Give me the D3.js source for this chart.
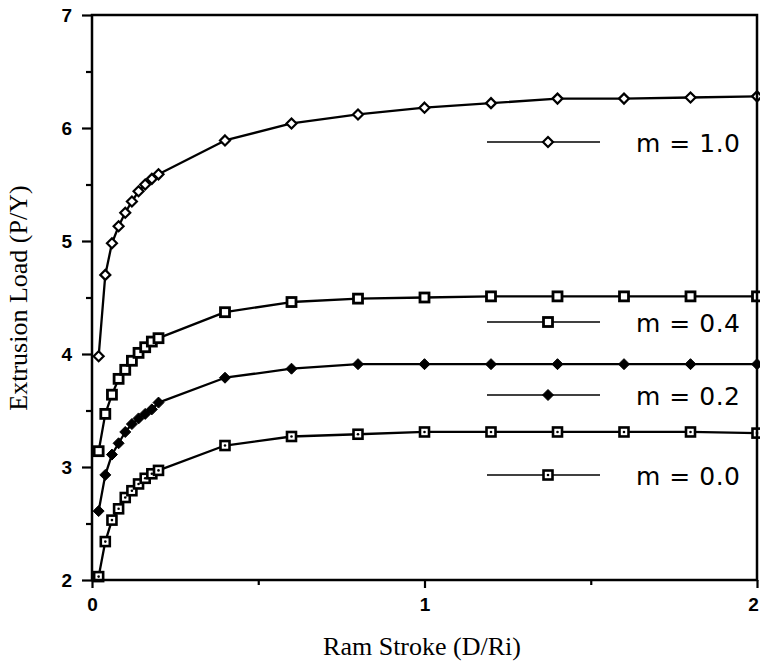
<!DOCTYPE html>
<html><head><meta charset="utf-8">
<script src="https://cdn.jsdelivr.net/npm/d3@7"></script>
<style>body{margin:0;background:#fff}svg{display:block}</style>
</head><body><svg id="c" width="760" height="666"></svg>
<script>
const xs = [0.02,0.04,0.06,0.08,0.10,0.12,0.14,0.16,0.18,0.20,0.4,0.6,0.8,1.0,1.2,1.4,1.6,1.8,2.0];
const m10 = [3.98,4.70,4.98,5.13,5.25,5.35,5.44,5.50,5.55,5.59,5.89,6.04,6.12,6.18,6.22,6.26,6.26,6.27,6.28];
const m04 = [3.14,3.47,3.64,3.78,3.86,3.94,4.01,4.06,4.11,4.14,4.37,4.46,4.49,4.50,4.51,4.51,4.51,4.51,4.51];
const m02 = [2.61,2.93,3.11,3.21,3.31,3.38,3.43,3.47,3.51,3.57,3.79,3.87,3.91,3.91,3.91,3.91,3.91,3.91,3.91];
const m00 = [2.03,2.34,2.53,2.63,2.73,2.79,2.85,2.90,2.94,2.97,3.19,3.27,3.29,3.31,3.31,3.31,3.31,3.31,3.30];
const seriesNames = ["m = 1.0","m = 0.4","m = 0.2","m = 0.0"];
const xTicks = [0,1,2];
const yTicks = [2,3,4,5,6,7];

const svg = d3.select("#c");
const L=92, R=757, T=15, B=580;
const x = d3.scaleLinear().domain([0,2]).range([L,R]);
const y = d3.scaleLinear().domain([2,7]).range([B,T]);

const series = [
  {name:seriesNames[0], vals:m10, mk:"odiamond", ly:142},
  {name:seriesNames[1], vals:m04, mk:"osquare", ly:322},
  {name:seriesNames[2], vals:m02, mk:"fdiamond", ly:395},
  {name:seriesNames[3], vals:m00, mk:"dsquare", ly:475}
];

const line = d3.line().x(d=>x(d[0])).y(d=>y(d[1]));

function marker(g, kind, cx, cy){
  if(kind==="odiamond"){
    g.append("path").attr("d",`M${cx},${cy-5}L${cx+5},${cy}L${cx},${cy+5}L${cx-5},${cy}Z`)
      .attr("fill","#fff").attr("stroke","#000").attr("stroke-width",2.2);
  } else if(kind==="fdiamond"){
    g.append("path").attr("d",`M${cx},${cy-5.5}L${cx+5.5},${cy}L${cx},${cy+5.5}L${cx-5.5},${cy}Z`)
      .attr("fill","#000").attr("stroke","#000").attr("stroke-width",1);
  } else if(kind==="osquare"){
    g.append("rect").attr("x",cx-4.5).attr("y",cy-4.5).attr("width",9).attr("height",9)
      .attr("fill","#fff").attr("stroke","#000").attr("stroke-width",2.8);
  } else {
    g.append("rect").attr("x",cx-4.5).attr("y",cy-4.5).attr("width",9).attr("height",9)
      .attr("fill","#fff").attr("stroke","#000").attr("stroke-width",2.6);
    g.append("circle").attr("cx",cx).attr("cy",cy).attr("r",1.3).attr("fill","#000");
  }
}

// series
series.forEach(s=>{
  const pts = xs.map((v,i)=>[v,s.vals[i]]);
  svg.append("path").datum(pts).attr("d",line).attr("fill","none")
    .attr("stroke","#000").attr("stroke-width",2.3).attr("stroke-linejoin","round");
  const g = svg.append("g");
  pts.forEach(p=>marker(g,s.mk,x(p[0]),y(p[1])));
});

// legend
series.forEach(s=>{
  svg.append("line").attr("x1",487).attr("x2",600).attr("y1",s.ly).attr("y2",s.ly)
    .attr("stroke","#000").attr("stroke-width",1.6);
  marker(svg.append("g"), s.mk, 548, s.ly);
  svg.append("text").attr("x",636).attr("y",s.ly+10).text(s.name)
    .attr("font-family","DejaVu Sans, sans-serif").attr("font-size",25)
    .attr("textLength",104).attr("lengthAdjust","spacing");
});

// frame
svg.append("rect").attr("x",L).attr("y",T).attr("width",R-L).attr("height",B-T)
  .attr("fill","none").attr("stroke","#000").attr("stroke-width",2.5);

// axes
const yAxis = d3.axisLeft(y).tickValues(yTicks).tickSize(10).tickPadding(10).tickFormat(d3.format("d"));
const gy = svg.append("g").attr("transform",`translate(${L},0)`).call(yAxis);
const xAxis = d3.axisBottom(x).tickValues(xTicks).tickSize(8).tickPadding(10).tickFormat(d3.format("d"));
const gx = svg.append("g").attr("transform",`translate(0,${B})`).call(xAxis);
[gx,gy].forEach(g=>{
  g.select(".domain").remove();
  g.selectAll(".tick line").attr("stroke","#000").attr("stroke-width",2.2);
  g.selectAll(".tick text").attr("font-family","Liberation Sans, Arial, sans-serif")
    .attr("font-size",19).attr("font-weight","bold").attr("fill","#000");
});
gx.selectAll(".tick text").filter(d=>d===2).attr("dx",-4);
// minor ticks
const yMinor = d3.axisLeft(y).tickValues([2.5,3.5,4.5,5.5,6.5]).tickSize(6).tickFormat("");
const gym = svg.append("g").attr("transform",`translate(${L},0)`).call(yMinor);
const xMinor = d3.axisBottom(x).tickValues([0.5,1.5]).tickSize(5).tickFormat("");
const gxm = svg.append("g").attr("transform",`translate(0,${B})`).call(xMinor);
[gym,gxm].forEach(g=>{ g.select(".domain").remove(); g.selectAll(".tick line").attr("stroke","#000").attr("stroke-width",2.2);});

// titles
svg.append("text").attr("x",422).attr("y",655).attr("text-anchor","middle")
  .attr("font-family","Liberation Serif, Times New Roman, serif").attr("font-size",26)
  .text("Ram Stroke (D/Ri)");
svg.append("text").attr("transform",`translate(27,298) rotate(-90)`).attr("text-anchor","middle")
  .attr("font-family","Liberation Serif, Times New Roman, serif").attr("font-size",26)
  .text("Extrusion Load (P/Y)");
</script></body></html>
